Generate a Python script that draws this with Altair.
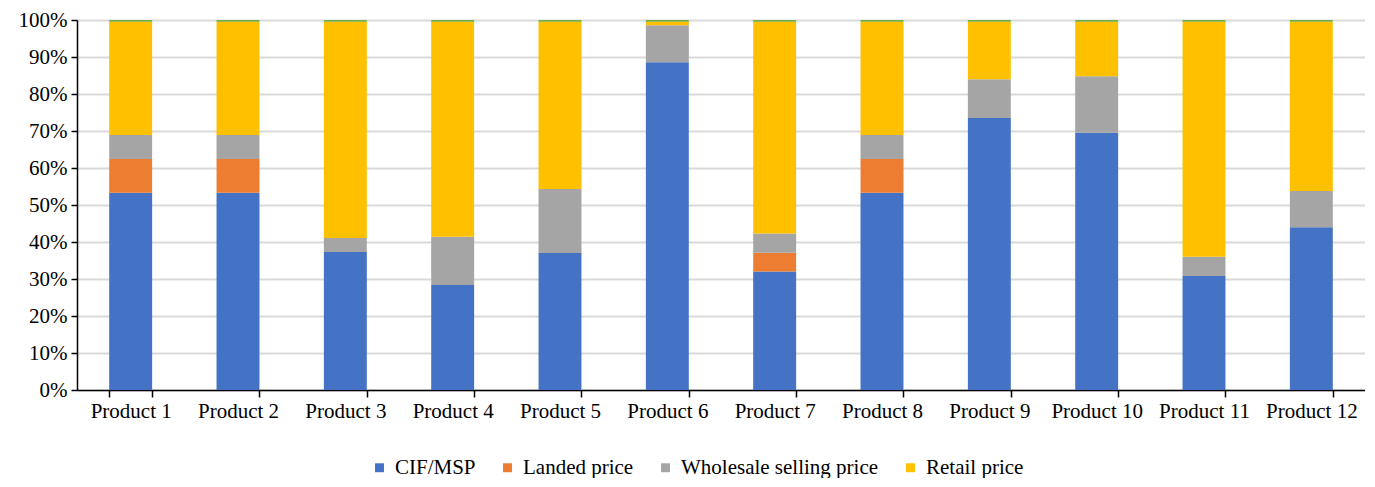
import altair as alt
import pandas as pd

products = ["Product 1", "Product 2", "Product 3", "Product 4", "Product 5", "Product 6",
            "Product 7", "Product 8", "Product 9", "Product 10", "Product 11", "Product 12"]
cif = [53.3, 53.3, 37.3, 28.4, 37.0, 88.6, 32.0, 53.3, 73.5, 69.5, 30.8, 44.0]
landed = [9.1, 9.1, 0.0, 0.0, 0.0, 0.0, 5.1, 9.1, 0.0, 0.0, 0.0, 0.0]
wholesale = [6.5, 6.5, 3.8, 13.0, 17.3, 10.0, 5.2, 6.5, 10.5, 15.3, 5.2, 9.8]
retail = [30.6, 30.6, 58.4, 58.1, 45.2, 0.9, 57.2, 30.6, 15.5, 14.7, 63.5, 45.7]
other = [0.5, 0.5, 0.5, 0.5, 0.5, 0.5, 0.5, 0.5, 0.5, 0.5, 0.5, 0.5]

series_names = ["CIF/MSP", "Landed price", "Wholesale selling price", "Retail price", "Other"]
series_values = [cif, landed, wholesale, retail, other]
series_colors = ["#4472C4", "#ED7D31", "#A5A5A5", "#FFC000", "#70AD47"]

rows = []
for si, (name, vals) in enumerate(zip(series_names, series_values)):
    for p, v in zip(products, vals):
        rows.append({"product": p, "series": name, "value": v, "order": si})
df = pd.DataFrame(rows)

FONT = "Liberation Serif, Times New Roman, serif"
FS = 21

chart = alt.Chart(df).mark_bar().encode(
    x=alt.X("product:N", sort=products, title=None,
            scale=alt.Scale(paddingInner=0.6, paddingOuter=0.3),
            axis=alt.Axis(labelAngle=0, tickBand="extent", ticks=True, tickSize=7,
                          tickColor="#000000", tickWidth=1.5, domainColor="#000000",
                          domainWidth=1.5, labelFont=FONT, labelFontSize=FS,
                          labelColor="#000000", labelPadding=3, grid=False)),
    y=alt.Y("value:Q", stack="normalize", title=None,
            scale=alt.Scale(domain=[0, 1]),
            axis=alt.Axis(format="%", values=[0, 0.1, 0.2, 0.3, 0.4, 0.5, 0.6, 0.7, 0.8, 0.9, 1.0],
                          tickSize=6, tickColor="#000000", tickWidth=1.5,
                          domainColor="#000000", domainWidth=1.5,
                          labelFont=FONT, labelFontSize=FS, labelColor="#000000",
                          labelPadding=4, minExtent=69,
                          grid=True, gridColor="#D9D9D9", gridWidth=2)),
    color=alt.Color("series:N",
                    scale=alt.Scale(domain=series_names, range=series_colors),
                    legend=alt.Legend(values=series_names[:4], title=None, orient="none",
                                      direction="horizontal", legendX=292, legendY=437,
                                      symbolType="square", symbolSize=80,
                                      symbolStrokeWidth=0, labelFont=FONT,
                                      labelFontSize=FS, labelColor="#000000",
                                      labelLimit=400, labelOffset=5, columnPadding=21)),
    order=alt.Order("order:Q", sort="ascending"),
).properties(
    width=1288, height=370,
    padding={"left": 0, "top": 1, "right": 0, "bottom": 0},
).configure_view(stroke=None)

chart.save("out.html", embed_options={"renderer": "svg", "actions": False})
